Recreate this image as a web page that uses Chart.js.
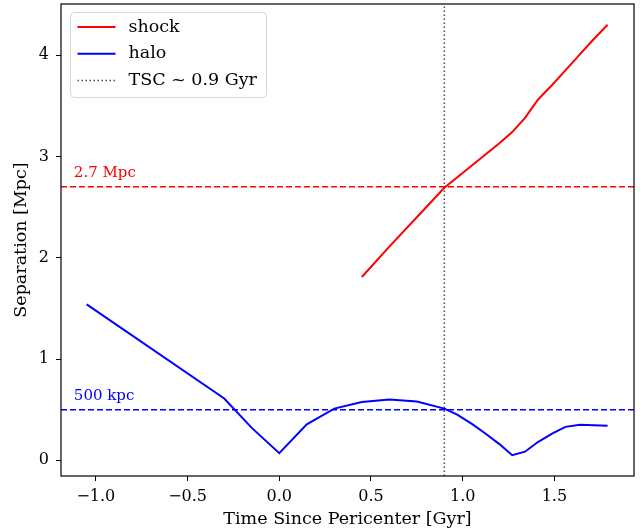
<!DOCTYPE html>
<html>
<head>
<meta charset="utf-8">
<script src="https://cdn.jsdelivr.net/npm/chart.js@4/dist/chart.umd.min.js"></script>
<style>
  html, body { margin: 0; padding: 0; background: #fff; }
  #wrap { width: 642px; height: 532px; position: relative; }
</style>
</head>
<body>
<div id="wrap"><canvas id="chart"></canvas></div>
<script>
// Separation vs time since pericenter: shock and halo tracks, with the two
// reference separations (2.7 Mpc, 500 kpc) and the TSC marker at 0.9 Gyr.
const shockTime = [0.45, 0.6, 0.75, 0.9, 1.05, 1.2, 1.27, 1.34, 1.41, 1.49, 1.56, 1.64, 1.71, 1.79];
const shockSep = [1.81, 2.11, 2.40, 2.69, 2.91, 3.13, 3.24, 3.38, 3.56, 3.71, 3.85, 4.01, 4.15, 4.30];

const haloTime = [-1.05, -0.3, -0.15, 0, 0.15, 0.3, 0.45, 0.6, 0.75, 0.9, 0.97, 1.05, 1.12, 1.2, 1.27, 1.34, 1.41, 1.49, 1.56, 1.64, 1.79];
const haloSep = [1.54, 0.61, 0.32, 0.07, 0.355, 0.51, 0.575, 0.60, 0.58, 0.51, 0.45, 0.36, 0.27, 0.16, 0.05, 0.085, 0.18, 0.265, 0.33, 0.35, 0.34];

const tscTime = 0.9;
const shockRef = 2.7;
const haloRef = 0.5;

const xTicks = [-1.0, -0.5, 0.0, 0.5, 1.0, 1.5];
const yTicks = [0, 1, 2, 3, 4];
const xRange = [-1.19, 1.934];
const yRange = [-0.155, 4.505];

const refLabels = [
  { text: '2.7 Mpc', x: -1.12, y: 2.8, color: '#ff0000' },
  { text: '500 kpc', x: -1.12, y: 0.6, color: '#0000ff' },
];

const SERIF = '"DejaVu Serif", serif';
const zip = (xs, ys) => xs.map((x, i) => ({ x, y: ys[i] }));

const frame = {
  id: 'frame',
  afterDatasetsDraw(chart) {
    const { ctx, chartArea: a } = chart;
    ctx.save();
    ctx.strokeStyle = '#000';
    ctx.lineWidth = 1.2;
    ctx.strokeRect(a.left, a.top, a.right - a.left, a.bottom - a.top);

    ctx.font = '15px ' + SERIF;
    ctx.textBaseline = 'alphabetic';
    ctx.textAlign = 'left';
    const { x, y } = chart.scales;
    refLabels.forEach((l) => {
      ctx.fillStyle = l.color;
      ctx.fillText(l.text, x.getPixelForValue(l.x), y.getPixelForValue(l.y));
    });
    ctx.restore();
  },
};

// matplotlib-style legend box in the upper left of the axes
const boxLegend = {
  id: 'boxLegend',
  afterDraw(chart) {
    const { ctx, chartArea: a } = chart;
    const items = chart.data.datasets.filter((d) => d.inLegend);
    const left = a.left + 9.5, top = a.top + 8.5, w = 196, h = 85;
    ctx.save();
    ctx.beginPath();
    ctx.roundRect(left, top, w, h, 4);
    ctx.fillStyle = 'rgba(255,255,255,0.8)';
    ctx.fill();
    ctx.strokeStyle = '#d6d6d6';
    ctx.lineWidth = 1;
    ctx.stroke();
    ctx.font = '17.5px ' + SERIF;
    ctx.textBaseline = 'middle';
    items.forEach((d, i) => {
      const cy = top + 14.5 + i * 26.7;
      ctx.beginPath();
      ctx.setLineDash(d.borderDash || []);
      ctx.strokeStyle = d.borderColor;
      ctx.lineWidth = d.borderWidth;
      ctx.moveTo(left + 7, cy);
      ctx.lineTo(left + 45, cy);
      ctx.stroke();
      ctx.setLineDash([]);
      ctx.fillStyle = '#000';
      ctx.fillText(d.label, left + 58, cy);
    });
    ctx.restore();
  },
};

const line = (label, data, color, width, dash, inLegend) => ({
  label, data, inLegend,
  showLine: true,
  borderColor: color,
  backgroundColor: color,
  borderWidth: width,
  borderDash: dash,
  pointRadius: 0,
  tension: 0,
});

new Chart(document.getElementById('chart'), {
  type: 'scatter',
  data: {
    datasets: [
      line('shock', zip(shockTime, shockSep), '#ff0000', 2, [], true),
      line('halo', zip(haloTime, haloSep), '#0000ff', 2, [], true),
      line('TSC ~ 0.9 Gyr', zip([tscTime, tscTime], yRange), 'rgba(0,0,0,0.7)', 1.5, [1.5, 2.5], true),
      line('2.7 Mpc', zip(xRange, [shockRef, shockRef]), '#ff0000', 1.5, [6, 3], false),
      line('500 kpc', zip(xRange, [haloRef, haloRef]), '#0000ff', 1.5, [6, 3], false),
    ],
  },
  options: {
    responsive: true,
    maintainAspectRatio: false,
    animation: false,
    devicePixelRatio: 1,
    layout: { padding: { left: 0, right: 8, top: 4, bottom: 0 } },
    plugins: { legend: { display: false }, tooltip: { enabled: false } },
    scales: {
      x: {
        type: 'linear',
        min: xRange[0],
        max: xRange[1],
        afterBuildTicks: (s) => { s.ticks = xTicks.map((value) => ({ value })); },
        afterFit: (s) => {
          s.height = 56;
          s.paddingLeft = 0;
          s.paddingRight = 0;
        },
        ticks: {
          color: '#000',
          padding: 6,
          font: { family: SERIF, size: 16 },
          callback: (v) => (v < 0 ? '\u2212' : '') + Math.abs(v).toFixed(1),
        },
        grid: { drawOnChartArea: false, drawTicks: true, tickLength: 5, color: '#000' },
        border: { display: false },
        title: {
          display: true,
          text: 'Time Since Pericenter [Gyr]',
          color: '#000',
          font: { family: SERIF, size: 17.5 },
          padding: { top: 0, bottom: 2 },
        },
      },
      y: {
        type: 'linear',
        min: yRange[0],
        max: yRange[1],
        afterBuildTicks: (s) => { s.ticks = yTicks.map((value) => ({ value })); },
        afterFit: (s) => {
          s.width = 61;
          s.paddingTop = 0;
          s.paddingBottom = 0;
        },
        ticks: {
          color: '#000',
          padding: 7,
          font: { family: SERIF, size: 16 },
          callback: (v) => String(v),
        },
        grid: { drawOnChartArea: false, drawTicks: true, tickLength: 5, color: '#000' },
        border: { display: false },
        title: {
          display: true,
          text: 'Separation [Mpc]',
          color: '#000',
          font: { family: SERIF, size: 17.5 },
          padding: { top: 11, bottom: 0 },
        },
      },
    },
  },
  plugins: [frame, boxLegend],
});
</script>
</body>
</html>
